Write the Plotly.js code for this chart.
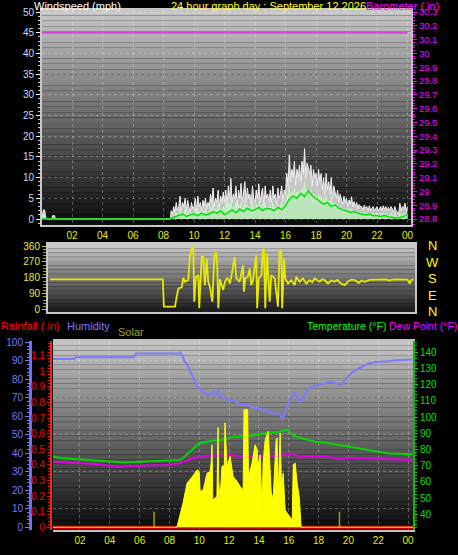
<!DOCTYPE html>
<html><head><meta charset="utf-8">
<script src="https://cdn.plot.ly/plotly-3.0.1.min.js"></script>
<style>html,body{margin:0;padding:0;background:#000;}#chart{width:458px;height:555px;}</style>
</head><body><div id="chart"></div>
<script>
// ---------- DATA ----------
const hourTicks = [2,4,6,8,10,12,14,16,18,20,22,24];
const hourLabels = ['02','04','06','08','10','12','14','16','18','20','22','00'];

// Wind (mph). Quiet period before 08:30
const earlyWindTimes = [0.0, 0.12, 0.2, 0.3, 0.68, 0.72, 0.86, 0.9, 8.45];
const earlyGust      = [0,   2.2,  2.2, 0,   0,    0.8,  0.8,  0,   0];
const earlySpeed     = [0,   1.0,  1.0, 0,   0,    0,    0,    0,   0];
// 5-minute samples from 08:30 to 24:00
const windStartHour = 8.5, windStepMin = 5;
const gust = [
 2,1,3,1.5,4,2,
 3,5.5,2,4,3,5,2,4.5,3,1.5,4,2.5,
 3,5,2,5.5,3,4,2,4.5,3,5,2.5,4,
 3,6,4,7.5,3,5,4,7,3,5.5,4,6.5,
 4,7,3,8,5,9.8,4,6,5,8,3,7,
 5,8.6,4,6.5,9,4,7.5,5,6,3.5,8,5,
 4,7,5,8.5,4,6,7.5,3,8,5,6,4,
 7,4,8,5,6,3.5,7.5,5,6,8,4,7,
 6,11,8,15.5,9,12,10,14,8,12,10,13,
 9,14,11,17,10,13.5,12,11,13,8,12,10,
 11,8,12,9,11,7,10,6,11,7,9,6,
 10,5,8,6,5,7,4,6,5,3.5,5.5,4,
 5,3,4.6,3.5,5.4,3,4.2,3,4,2.5,3.5,3,
 3,2,3.4,2.5,3,2,3.2,2,2.6,3,2,2.5,
 3,2,2.6,3,2,3.2,2.2,3,2,2.8,2,3,
 2.5,1.5,3,2,1.8,1.2,3.8,2,3,2.5,3.8,2,
 3];
const speed = [
 0.5,0,1,0.5,1.5,0.5,
 1,2.5,0.5,1.5,1,2.5,0.5,2,1,0.5,1.5,1,
 1,2.5,0.5,2.5,1,2,0.5,2,1,2.5,1,1.5,
 1,3,1.5,4,1,2.5,1.5,3.5,1,2.5,1.5,3,
 1.5,3.5,1,4,2,5,1.5,3,2,4,1,3.5,
 2,4,1.5,3,4.5,1.5,3.5,2,3,1,4,2,
 1.5,3.5,2,4,1.5,3,3.5,1,4,2,3,1.5,
 3.5,1.5,4,2,3,1,3.5,2,3,4,1.5,3.5,
 3,6,4,8,4.5,6.5,5,7.5,4,6.5,5,7,
 4.5,7.5,5.5,9,5,7,6,5.5,7,4,6,5,
 5.5,4,6,4.5,5.5,3.5,5,3,5.5,3.5,4.5,3,
 5,2.5,4,3,2.5,3.5,2,3,2.5,1.5,2.5,2,
 2.5,1.5,2.5,1.5,2.5,1.5,2,1.5,2,1,1.5,1.5,
 1.5,1,1.5,1,1.5,0.5,1.5,1,1,1.5,0.5,1,
 1.5,0.5,1,1.5,0.5,1.5,1,1.5,0.5,1,0.5,1.5,
 1,0.5,1.5,0.5,0.5,0,1.5,0.5,1,1,1.5,0.5,
 1];
// 15-minute average from 08:30
const avgStepMin = 15;
const earlyAvgTimes = [0, 8.45];
const earlyAvg = [0, 0];
const avgWind = [
 0.2,0.5,
 0.8,1.2,0.6,1.0,
 1.2,0.8,1.4,1.0,
 1.2,1.8,1.4,2.0,
 1.0,1.6,2.2,1.5,
 2.4,1.8,2.6,2.0,
 2.2,2.8,2.0,2.6,
 2.4,2.0,2.8,2.2,
 3.2,4.8,5.6,5.0,
 6.2,5.4,6.8,5.6,
 5.0,4.2,3.6,4.0,
 3.0,3.4,2.6,2.2,
 2.0,1.6,1.8,1.4,
 1.2,1.0,1.2,0.8,
 0.8,0.6,0.9,0.5,
 0.4,0.2,0.3,0.6,
 1.0];

// Barometer (in), hourly
const baroTimes = [0,1,2,3,4,5,6,7,8,9,10,11,12,13,14,15,16,17,18,19,20,21,22,23,24];
const baro = [30.15,30.15,30.15,30.15,30.15,30.15,30.15,30.15,30.15,30.15,30.15,30.15,30.15,30.15,30.15,30.15,30.15,30.15,30.15,30.15,30.15,30.15,30.15,30.15,30.15];

// Wind direction (degrees)
const dirTimes = [0.15,7.55,7.62,8.35,8.46,8.57,8.79,8.89,9.0,9.22,9.33,9.44,9.55,9.61,9.72,9.88,9.94,10.03,10.1,10.2,
 10.31,10.43,10.53,10.64,10.8,10.93,11.04,11.12,11.19,11.3,11.41,11.51,11.63,11.74,11.82,11.95,12.04,12.26,12.37,12.59,
 12.81,12.87,12.96,13.13,13.25,13.35,13.46,13.68,13.74,13.84,14.01,14.12,14.18,14.27,14.38,14.45,14.56,14.66,14.89,15.1,
 15.21,15.32,15.38,15.5,15.58,15.76,15.97,16.2,16.3,16.52,16.74,16.96,17.18,17.35,17.51,17.7,17.84,18.0,18.16,18.38,
 18.6,18.82,19.0,19.2,19.48,19.7,19.9,20.13,20.4,20.6,20.79,21.1,21.44,21.7,22.1,22.4,22.75,23.1,23.41,23.6,23.74,23.85,24.0];
const dirDeg = [171,171,17,17,73,120,126,180,158,168,308,345,355,45,185,195,8,186,298,298,
 139,290,158,129,45,308,326,251,8,174,146,111,158,177,177,148,186,298,177,158,
 251,102,177,186,233,139,167,308,8,177,195,336,345,8,317,233,45,195,177,17,
 336,326,8,289,177,148,167,139,186,158,177,148,167,155,177,165,158,172,167,148,
 165,158,168,150,139,160,170,167,152,165,158,168,167,170,171,166,171,171,171,170,148,168,171];

// Humidity (%)
const humTimes = [0,1.6,1.7,5.6,5.75,8.6,8.72,8.85,9.0,9.2,9.4,9.55,9.8,10.1,10.3,10.55,10.75,10.95,11.1,11.3,
 11.5,11.8,12.07,12.3,12.5,12.9,13.2,13.5,13.9,14.2,14.5,14.75,15.0,15.3,15.45,15.6,15.75,15.9,16.1,16.25,
 16.43,16.6,16.8,17.0,17.3,17.6,17.97,18.4,18.85,19.2,19.5,19.8,20.2,20.5,20.9,21.3,21.8,22.3,22.7,23.14,23.6,24.3];
const humidity = [91,91,92,92,94,94,94.5,93,90,88,84,82,77,74,73,71.5,72,73.5,71,74,
 70,69.5,68.5,69,67.5,66,66.5,65,64.5,63.5,64,62,61.5,62,60.5,58,62,66,68.8,71,
 72.6,70,68,71,75.3,76,77,78,78.8,78,77,80,83.4,85,86.9,88.5,89.5,89.5,89.8,90.4,90.6,90.8];

// Temperature (F)
const tempTimes = [0,0.85,1.8,3.3,4.7,5.0,6.0,7.8,8.7,8.9,9.4,10.05,10.9,11.8,12.07,13.3,14.1,14.55,15.4,15.6,15.95,16.3,16.5,17.8,18.3,19.3,20.5,22.0,22.7,24.3];
const temperature = [76,74.6,74,73,71.9,72,72.5,72.9,73.5,74.6,78.6,84.2,85.4,86.3,87.8,88.3,89.3,90.4,91,91.6,92,88.6,87.9,84.8,84.5,82.8,80.7,78.6,77.6,77];

// Dew point (F)
const dewTimes = [0,1.8,3.3,4.7,4.9,6.0,7.8,8.7,9.58,10.5,11.4,12.07,12.9,13.4,14.0,14.6,15.4,15.6,16.43,16.8,17.0,18.6,19.3,20.0,20.9,22.7,24.3];
const dewPoint = [72.5,71.5,70.9,69,69.5,70,70.4,71.5,74.6,76.2,76.2,76.6,75.8,76.2,75.6,76.4,76,76.6,77,74.6,76,75.6,74.1,74.6,74.6,74,73.5];

// Solar radiation
const solarTimes = [0,8.5,8.91,9.18,9.5,9.85,9.99,10.06,10.26,10.52,10.72,10.8,10.85,10.91,11.18,11.24,11.26,11.3,11.39,11.52,
 11.68,11.72,11.78,11.86,12.07,12.27,12.54,12.74,12.94,13.0,13.24,13.3,13.54,13.74,13.88,13.95,14.08,14.21,14.28,14.42,
 14.62,14.75,14.82,14.95,15.15,15.22,15.29,15.42,15.52,15.62,15.76,15.89,16.09,16.23,16.3,16.43,16.56,16.7,16.83,24.35];
const solar = [0,0,156,283,320,368,358,229,240,347,356,420,529,176,197,520,640,300,176,390,
 400,669,520,390,454,325,293,261,240,754,754,325,412,529,497,390,465,100,413,561,
 615,413,229,176,561,572,208,604,240,347,111,92,68,47,401,412,283,197,0,0];
const olivePeaksTimes = [6.97, 19.4];
const olivePeaks = [100, 100];

// Rainfall (in)
const rainTimes = [0, 24.35];
const rain = [0, 0];

// ---------- BUILD ----------
const windGridTimes = gust.map((_, i) => windStartHour + i * windStepMin / 60);
const avgGridTimes = avgWind.map((_, i) => windStartHour + i * avgStepMin / 60);

const FONT = "'Liberation Sans', Arial, sans-serif";

const traces = [
  {x: earlyWindTimes.concat(windGridTimes), y: earlyGust.concat(gust), xaxis:'x', yaxis:'y', type:'scatter', mode:'lines',
   fill:'tozeroy', fillcolor:'rgba(225,225,225,0.85)', line:{color:'#f0f0f0', width:1}, hoverinfo:'skip'},
  {x: earlyWindTimes.concat(windGridTimes), y: earlySpeed.concat(speed), xaxis:'x', yaxis:'y', type:'scatter', mode:'lines',
   fill:'tozeroy', fillcolor:'rgba(185,235,185,0.85)', line:{color:'#c8f5c8', width:1}, hoverinfo:'skip'},
  {x: earlyAvgTimes.concat(avgGridTimes), y: earlyAvg.concat(avgWind), xaxis:'x', yaxis:'y', type:'scatter', mode:'lines',
   line:{color:'#00e000', width:1.5}, hoverinfo:'skip'},
  {x: baroTimes, y: baro, xaxis:'x', yaxis:'y2', type:'scatter', mode:'lines', line:{color:'#e040e0', width:2}, hoverinfo:'skip'},

  {x: dirTimes, y: dirDeg, xaxis:'x2', yaxis:'y3', type:'scatter', mode:'lines', line:{color:'#e8e800', width:1.8}, hoverinfo:'skip'},

  {x: solarTimes, y: solar, xaxis:'x3', yaxis:'y7', type:'scatter', mode:'lines', fill:'tozeroy',
   fillcolor:'#ffff00', line:{color:'#ffff00', width:1}, hoverinfo:'skip'},
  {x: olivePeaksTimes, y: olivePeaks, xaxis:'x3', yaxis:'y7', type:'bar', width:0.1, marker:{color:'#a0a000', line:{width:0}}, hoverinfo:'skip'},
  {x: humTimes, y: humidity, xaxis:'x3', yaxis:'y4', type:'scatter', mode:'lines', line:{color:'#7b7bff', width:2}, hoverinfo:'skip'},
  {x: tempTimes, y: temperature, xaxis:'x3', yaxis:'y6', type:'scatter', mode:'lines', line:{color:'#00d800', width:2}, hoverinfo:'skip'},
  {x: dewTimes, y: dewPoint, xaxis:'x3', yaxis:'y6', type:'scatter', mode:'lines', line:{color:'#e000e0', width:2}, hoverinfo:'skip'},
  {x: rainTimes, y: rain, xaxis:'x3', yaxis:'y5', type:'scatter', mode:'lines', line:{color:'#ff0000', width:3}, hoverinfo:'skip'},
  {x: rainTimes, y: rain, xaxis:'x3', yaxis:'y8', type:'scatter', mode:'lines', line:{color:'rgba(0,0,0,0)', width:0}, hoverinfo:'skip'}
];

function bands(xref, yref, n, topV, botV) {
  const out = [];
  for (let i = 0; i < n; i++) {
    const c = Math.round(topV + (botV - topV) * (i + 0.5) / n);
    out.push({type:'rect', xref: xref, yref: yref, x0:0, x1:1, y0: 1 - (i + 1) / n, y1: 1 - i / n,
      fillcolor: 'rgb(' + c + ',' + c + ',' + c + ')', line:{width:0}, layer:'below'});
  }
  return out;
}
const shapes = [].concat(
  bands('x domain', 'y domain', 40, 200, 10),
  bands('x2 domain', 'y3 domain', 16, 205, 25),
  bands('x3 domain', 'y4 domain', 40, 198, 10)
);

const gridC = 'rgba(255,255,255,0.28)';
const W = 458, H = 555;
function ann(text, xpx, ypx, color, size, anchor) {
  return {text: text, xref:'paper', yref:'paper', x: xpx / W, y: (H - ypx) / H, xanchor: anchor || 'left', yanchor:'middle',
    showarrow:false, borderpad:0, font:{family: FONT, size: size || 11, color: color}};
}

const layout = {
  width: W, height: H, margin:{l:0, r:0, t:0, b:0},
  paper_bgcolor:'#000', plot_bgcolor:'#000', showlegend:false,
  font:{family: FONT, size:10, color:'#fff'},
  shapes: shapes,
  xaxis: {domain:[42/W, 411/W], anchor:'y', range:[0.03, 24.23], tickvals: hourTicks, ticktext: hourLabels,
    ticks:'', showgrid:true, gridcolor:gridC, griddash:'dot', showline:true, linecolor:'#c8c8c8', linewidth:2, mirror:true,
    tickfont:{color:'#e0f000', size:10}, zeroline:false},
  yaxis: {domain:[330/H, 545/H], anchor:'x', range:[-1.45, 50.5], dtick:5, tick0:0, ticks:'outside', ticklen:4, tickcolor:'#ffffff',
    minor:{dtick:1, ticklen:2, ticks:'outside', tickcolor:'#cccccc', showgrid:false},
    showgrid:true, gridcolor:gridC, griddash:'dot', showline:true, linecolor:'#c8c8c8', linewidth:2, mirror:true,
    tickfont:{color:'#c8d8ff', size:10}, zeroline:false},
  yaxis2: {overlaying:'y', side:'right', anchor:'x', range:[28.757, 30.315], dtick:0.1, tick0:28.8, ticks:'outside', ticklen:4, tickcolor:'#ff00ff',
    minor:{dtick:0.02, ticklen:2, ticks:'outside', tickcolor:'#ff00ff'}, showgrid:false, showline:true, linecolor:'#d8b0d8', linewidth:2,
    tickfont:{color:'#ff00ff', size:9.5}, zeroline:false},

  xaxis2: {domain:[48/W, 415/W], anchor:'y3', range:[0.02, 24.09], showticklabels:false, ticks:'', showgrid:false,
    showline:true, linecolor:'#c8c8c8', linewidth:2, mirror:true, zeroline:false},
  yaxis3: {domain:[243/H, 311/H], anchor:'x2', range:[-13, 371.3], tickvals:[0,90,180,270,360], ticks:'outside', ticklen:4, tickcolor:'#c8c800',
    minor:{dtick:18, ticklen:3, ticks:'outside', tickcolor:'#a8a800'}, showgrid:false, showline:true, linecolor:'#c8c8c8', linewidth:2, mirror:true,
    tickfont:{color:'#e8e840', size:10}, zeroline:false},

  xaxis3: {domain:[53/W, 413/W], anchor:'y4', range:[0.19, 24.33], tickvals: hourTicks, ticktext: hourLabels, ticks:'',
    showgrid:true, gridcolor:gridC, griddash:'dot', showline:true, linecolor:'#c0c0c0', linewidth:2, mirror:true,
    tickfont:{color:'#e0f000', size:10}, zeroline:false},
  yaxis4: {domain:[25/H, 214/H], anchor:'free', position:30/W, side:'left', range:[-1.5, 100.8], dtick:10, tick0:0,
    ticks:'outside', ticklen:4, tickcolor:'#7878ff', minor:{dtick:2, ticklen:2, ticks:'outside', tickcolor:'#7878ff'},
    showgrid:false, showline:true, linecolor:'#7070ff', linewidth:3, tickfont:{color:'#7878ff', size:10}, zeroline:false},
  yaxis5: {overlaying:'y4', anchor:'free', position:51/W, side:'left', range:[-0.0173, 1.194], dtick:0.1, tick0:0,
    ticks:'outside', ticklen:3, tickcolor:'#ff0000', minor:{dtick:0.02, ticklen:2, ticks:'outside', tickcolor:'#ff0000'},
    showgrid:false, showline:true, linecolor:'#ff2020', linewidth:2, tickfont:{color:'#ff0000', size:10}, zeroline:false},
  yaxis6: {overlaying:'y4', anchor:'x3', side:'right', range:[30.3, 147], tickvals:[40,50,60,70,80,90,100,110,120,130,140],
    ticks:'outside', ticklen:3, tickcolor:'#00e000', minor:{dtick:2, ticklen:2, ticks:'outside', tickcolor:'#00c000'},
    showgrid:false, showline:true, linecolor:'#00c000', linewidth:2, tickfont:{color:'#00e000', size:10}, zeroline:false},
  yaxis7: {overlaying:'y4', anchor:'x3', range:[-17.3, 1194], visible:false, showgrid:false, zeroline:false},
  yaxis8: {overlaying:'y4', anchor:'x3', range:[-1.5, 100.8], tickvals:[10,30,50,70,90], showticklabels:false, ticks:'',
    showgrid:true, gridcolor:gridC, griddash:'dot', showline:false, zeroline:false},

  annotations: [
    ann('Windspeed (mph)', 33, 6, '#ffffff', 11),
    ann('24 hour graph day : September 12 2026', 170, 6, '#ffff00', 11),
    ann('Barometer (.in)', 365, 6, '#ff00ff', 11),
    ann('Rainfall (.in)', 0, 326, '#ff0000', 11),
    ann('Humidity', 66, 326, '#7878ff', 11),
    ann('Solar', 117, 332, '#a0a020', 11),
    ann('Temperature (°F)', 306, 326, '#00ff00', 10.5),
    ann('Dew Point (°F)', 458, 326, '#ff00ff', 10.5, 'right'),
    ann('N', 432, 245, '#ffff00', 13, 'center'),
    ann('W', 432, 262, '#ffff00', 13, 'center'),
    ann('S', 432, 278, '#ffff00', 13, 'center'),
    ann('E', 432, 295, '#ffff00', 13, 'center'),
    ann('N', 432, 311, '#ffff00', 13, 'center')
  ]
};

Plotly.newPlot('chart', traces, layout, {staticPlot:true, displayModeBar:false});
</script></body></html>
